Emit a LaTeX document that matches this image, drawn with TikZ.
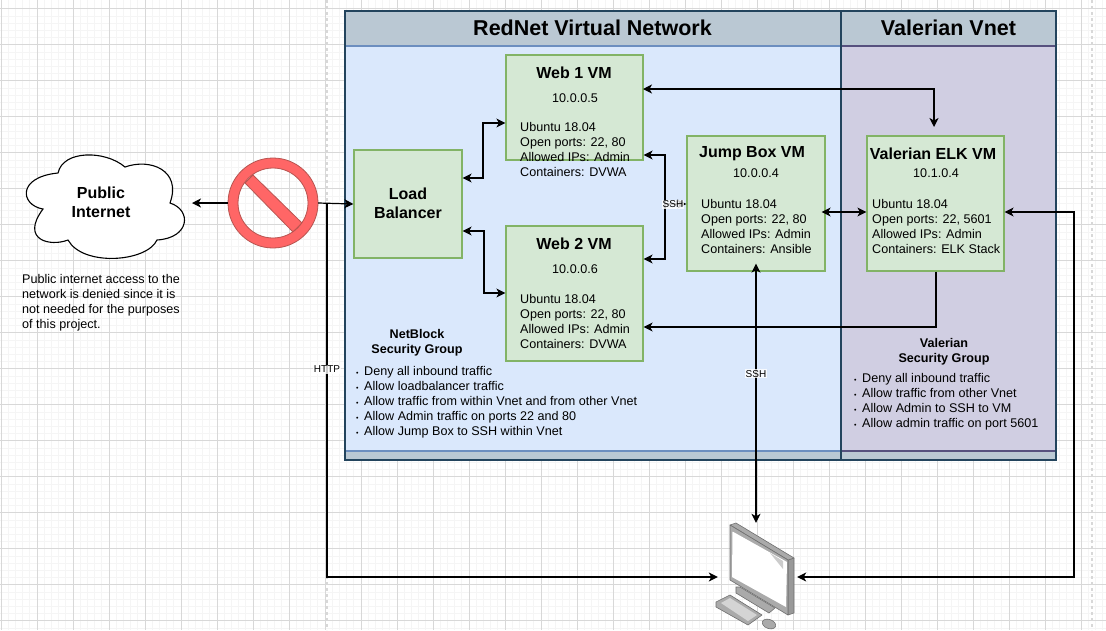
\documentclass[tikz,border=0pt]{standalone}
\usepackage{fontspec}
\setmainfont{Liberation Sans}
\usetikzlibrary{arrows.meta}
\definecolor{gridminor}{RGB}{245,245,245}
\definecolor{gridmajor}{RGB}{216,216,216}
\definecolor{lanehead}{RGB}{186,200,211}
\definecolor{laneline}{RGB}{35,68,93}
\definecolor{netblue}{RGB}{218,232,252}
\definecolor{netblueline}{RGB}{108,142,191}
\definecolor{valpurple}{RGB}{208,206,226}
\definecolor{valpurpleline}{RGB}{86,81,126}
\definecolor{vmgreen}{RGB}{213,232,212}
\definecolor{vmgreenline}{RGB}{130,179,102}
\definecolor{nored}{RGB}{255,102,102}
\definecolor{noredline}{RGB}{184,84,80}
\definecolor{pcgrey}{RGB}{170,170,170}
\definecolor{pcdark}{RGB}{110,110,110}
\tikzset{>={Stealth[length=9pt,width=9pt,inset=2.5pt]}}
\tikzset{
  vmbox/.style={draw=vmgreenline,fill=vmgreen,line width=1.2pt,inner sep=0pt},
  vmtitle/.style={font=\fontsize{16}{19}\bfseries\selectfont,align=center,inner sep=0pt},
  vmip/.style={font=\fontsize{12.6}{15}\selectfont,inner sep=0pt},
  vmtext/.style={font=\fontsize{12.6}{15}\selectfont,align=left,anchor=north west,inner sep=0pt},
  sgtitle/.style={font=\fontsize{12.6}{15}\bfseries\selectfont,align=center,inner sep=0pt},
  lanetitle/.style={font=\fontsize{21.5}{25}\bfseries\selectfont,inner sep=0pt},
  wire/.style={draw=black,line width=1.2pt},
  wirelabel/.style={font=\fontsize{10}{11}\selectfont,fill=white,fill opacity=.8,text opacity=1,inner sep=1pt},
  pcface/.style={draw=pcdark,fill=pcgrey,line width=.6pt,line join=round},
}
\newcommand{\sgitem}[1]{\makebox[8pt][l]{\fontsize{7}{7}\selectfont\textbullet}#1}

\begin{document}
\begin{tikzpicture}[x=1pt,y=-1pt]
\useasboundingbox (0,0) rectangle (1106,630);
\fill[white] (0,0) rectangle (1106,630);
\begin{scope}
\clip (0,0) rectangle (1106,630);
\foreach \i in {0,...,154} \draw[gridminor,line width=.7pt] ({1+7.2*\i},0) -- ({1+7.2*\i},630);
\foreach \i in {0,...,88} \draw[gridminor,line width=.7pt] (0,{8.7+7.2*\i}) -- (1106,{8.7+7.2*\i});
\foreach \i in {0,...,30} \draw[gridmajor,line width=.8pt] ({1+36*\i},0) -- ({1+36*\i},630);
\foreach \i in {0,...,17} \draw[gridmajor,line width=.8pt] (0,{8.7+36*\i}) -- (1106,{8.7+36*\i});
\draw[gridmajor,line width=1.2pt,dashed] (327,0) -- (327,630);
\draw[gridmajor,line width=1.2pt,dashed] (1092,0) -- (1092,630);
\end{scope}

% virtual networks
\draw[fill=lanehead,draw=laneline,line width=1.2pt] (345,11) rectangle (841,460);
\draw[fill=lanehead,draw=laneline,line width=1.2pt] (841,11) rectangle (1056,460);
\draw[fill=netblue,draw=netblueline,line width=1.2pt] (345,46) rectangle (841,451);
\draw[fill=valpurple,draw=valpurpleline,line width=1.2pt] (841,46) rectangle (1056,451);
\draw[draw=laneline,line width=1.2pt] (345,11) rectangle (841,460);
\draw[draw=laneline,line width=1.2pt] (841,11) rectangle (1056,460);
\node[lanetitle] (rednet) at (592.5,28) {RedNet Virtual Network};
\node[lanetitle] (valerian) at (948.5,28) {Valerian Vnet};

% boxes
\node[vmbox,minimum width=108pt,minimum height=108pt] (lb) at (408,204) {};
\node[vmbox,minimum width=137pt,minimum height=105pt] (web1) at (574.5,107.5) {};
\node[vmbox,minimum width=137pt,minimum height=135pt] (web2) at (574.5,293.5) {};
\node[vmbox,minimum width=138pt,minimum height=135pt] (jump) at (756,203.5) {};
\node[vmbox,minimum width=137pt,minimum height=135pt] (elk) at (935.5,203.5) {};

\node[vmtitle] (lbtitle) at (408,203) {Load\\Balancer};
\node[vmtitle] (web1title) at (574,73) {Web 1 VM};
\node[vmip] (web1ip) at (575,98) {10.0.0.5};
\node[vmtext] (web1text) at (520,122.5) {Ubuntu 18.04\\Open ports: 22, 80\\Allowed IPs: Admin\\Containers: DVWA};
\node[vmtitle] (web2title) at (574,244) {Web 2 VM};
\node[vmip] (web2ip) at (575,269) {10.0.0.6};
\node[vmtext] (web2text) at (520,294.5) {Ubuntu 18.04\\Open ports: 22, 80\\Allowed IPs: Admin\\Containers: DVWA};
\node[vmtitle] (jumptitle) at (752,154) {Jump Box VM};
\node[vmip] (jumpip) at (756,173) {10.0.0.4};
\node[vmtext] (jumptext) at (701,199.5) {Ubuntu 18.04\\Open ports: 22, 80\\Allowed IPs: Admin\\Containers: Ansible};
\node[vmtitle] (elktitle) at (933,154) {Valerian ELK VM};
\node[vmip] (elkip) at (936,173) {10.1.0.4};
\node[vmtext] (elktext) at (872,199.5) {Ubuntu 18.04\\Open ports: 22, 5601\\Allowed IPs: Admin\\Containers: ELK Stack};

% security groups
\node[sgtitle] (netblock) at (417,343) {NetBlock\\Security Group};
\node[vmtext] (netblocktext) at (356,366.5) {\sgitem{Deny all inbound traffic}\\\sgitem{Allow loadbalancer traffic}\\\sgitem{Allow traffic from within Vnet and from other Vnet}\\\sgitem{Allow Admin traffic on ports 22 and 80}\\\sgitem{Allow Jump Box to SSH within Vnet}};
\node[sgtitle] (valsg) at (944,352) {Valerian\\Security Group};
\node[vmtext] (valsgtext) at (854,373.5) {\sgitem{Deny all inbound traffic}\\\sgitem{Allow traffic from other Vnet}\\\sgitem{Allow Admin to SSH to VM}\\\sgitem{Allow admin traffic on port 5601}};

% cloud
\draw[fill=white,draw=black,line width=1.1pt] (58,173) .. controls (63,150) and (105,150) .. (125,167)
  .. controls (150,158) and (182,170) .. (170,203) .. controls (192,210) and (190,238) .. (157,240)
  .. controls (147,262) and (83,267) .. (68,240) .. controls (50,247) and (20,240) .. (43,209)
  .. controls (20,205) and (17,177) .. (58,173) -- cycle;
\node[vmtitle,minimum width=170pt,minimum height=40pt] (cloud) at (101,202.5) {Public\\Internet};
\node[vmtext] (clouddesc) at (22,274.5) {Public internet access to the\\network is denied since it is\\not needed for the purposes\\of this project.};

% no entry
\node[circle,minimum size=90pt,inner sep=0pt] (nosign) at (273,203) {};
\draw[fill=nored,draw=noredline,line width=.8pt] (245,183) -- (253,175) -- (302,223) -- (293,232) -- cycle;
\draw[fill=nored,draw=noredline,line width=.8pt,even odd rule] (nosign) circle (45pt) (nosign) circle (35pt);
\fill[nored] (248,183) -- (253,178) -- (299,223) -- (293,229) -- cycle;

% computer
\node[minimum width=79pt,minimum height=108pt,inner sep=0pt] (pc) at (757.5,577) {};
\draw[pcface,fill=pcdark!70] (788,560) -- (794,558) -- (794,613) -- (788,615) -- cycle;
\draw[pcface] (730,525) -- (736,523) -- (794,558) -- (788,560) -- cycle;
\draw[pcface] (730,525) -- (788,560) -- (788,615) -- (730,580) -- cycle;
\fill[white] (732.5,531.5) -- (787,562) -- (786,607) -- (732,577) -- cycle;
\fill[pcgrey!60] (770,553) -- (783,561) -- (783,569) -- cycle;
\draw[pcface] (736,587) -- (740,587) -- (775,608) -- (769,613) -- (736,593) -- cycle;
\draw[pcface] (716,602) -- (730,595) -- (762,615) -- (748,625) -- (716,607) -- cycle;
\fill[pcgrey!50] (721,603) -- (730,598) -- (757,615) -- (748,621) -- cycle;
\draw[pcface,rotate around={-20:(769,624)}] (769,624) ellipse (7pt and 4.5pt);

% connectors
\coordinate (httpstart) at (327,203);
\coordinate (web1high) at (643,89);
\coordinate (elkhigh) at (934,127);
\coordinate (rightturn) at (1074,212);
\draw[wire,<->] (lb.east |- 0,178) -- (483,178) -- (483,123) -- (web1.west |- 0,123);
\draw[wire,<->] (lb.east |- 0,231) -- (484,231) -- (484,293) -- (web2.west |- 0,293);
\draw[wire,<->] (web1high) -- (934,89) -- (elkhigh);
\draw[wire,<->] (web1.east |- 0,155) -- (665,155) -- (665,259) -- (web2.east |- 0,259);
\draw[wire,->] (665,204) -- (jump.west |- 0,204);
\node[wirelabel] (sshweb) at (673,204.5) {SSH};
\draw[wire,<->,shorten <=-4pt] (jump.east |- 0,212) -- (elk.west |- 0,212);
\draw[wire,->] (elk.south -| 936,0) -- (936,327) -- (web2.east |- 0,327);
\draw[wire,<->,shorten <=-8pt] (jump.south) -- node[wirelabel,pos=.406] (sshpc) {SSH} (jump.south |- pc.north);
\draw[wire,->] (nosign.west) -- (192,203);
\draw[wire,->] (nosign.east) -- (lb.west);
\draw[wire,->] (httpstart) -- node[wirelabel,pos=.445] (http) {HTTP} (327,577) -- (pc.west);
\draw[wire,<->] (elk.east |- 0,212) -- (rightturn) -- (1074,577) -- (pc.east);
\end{tikzpicture}
\end{document}
